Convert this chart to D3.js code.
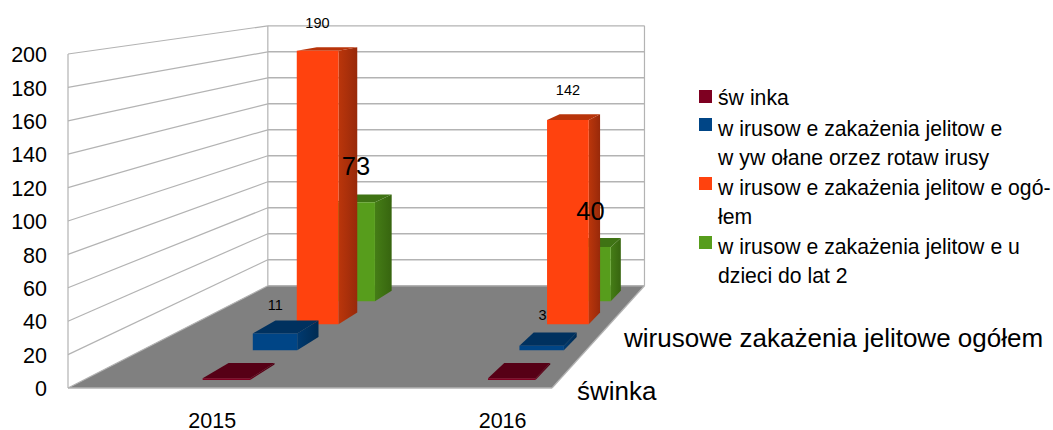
<!DOCTYPE html>
<html><head><meta charset="utf-8">
<script src="https://cdn.jsdelivr.net/npm/d3@7/dist/d3.min.js"></script>
<style>html,body{margin:0;background:#fff}svg{display:block}text{font-family:"Liberation Sans",Arial,sans-serif;fill:#000}</style>
</head><body><svg id="c" width="1053" height="430"></svg>
<script>
const categories = ["2015", "2016"];
const swinka = [1, 1];
const rotawirusy = [11, 3];
const ogolem = [190, 142];
const dzieci = [73, 40];
const yTicks = [0, 20, 40, 60, 80, 100, 120, 140, 160, 180, 200];
const legendLines = [["świnka"], ["wirusowe zakażenia jelitowe", "wywołane orzez rotawirusy"], ["wirusowe zakażenia jelitowe ogó-", "łem"], ["wirusowe zakażenia jelitowe u", "dzieci do lat 2"]];
const depthLabels = ["świnka", "wirusowe zakażenia jelitowe ogółem"];

const seriesValues = [swinka, rotawirusy, ogolem, dzieci];
const colors = ["#7e0021", "#004586", "#ff420e", "#579d1c"];
const topColors = ["#560016", "#00315f", "#b8340a", "#3f7314"];
const sideA = ["#6a001b", "#003a70", "#bb360b", "#457d16"];
const sideB = ["#4c0013", "#002b52", "#98290a", "#37650f"];

const svg = d3.select("#c");
const vx = 969, vy = -73, k = 0.285, baseY = 388;
const xWorld = d3.scaleLinear().domain([0, 1]).range([68, 552]);
const hWorld = d3.scaleLinear().domain([0, 200]).range([0, 334]);
const yFront = d3.scaleLinear().domain([0, 200]).range([388, 54]);
const catX = d3.scalePoint().domain(categories).range([0.3, 0.9]);
const zScale = d3.scaleBand().domain(d3.range(4)).range([0, 1]).paddingInner(0.5).paddingOuter(0.25);
const halfW = 0.05;

function P(x, v, z) {
  const s = 1 / (1 + k * z);
  return [vx + (xWorld(x) - vx) * s, vy + (baseY - hWorld(v) - vy) * s];
}
const poly = pts => pts.map(p => p.map(n => n.toFixed(2)).join(",")).join(" ");
const line = (g, a, b, w) => g.append("line").attr("x1", a[0]).attr("y1", a[1]).attr("x2", b[0]).attr("y2", b[1])
  .attr("stroke", "#b3b3b3").attr("stroke-width", w || 1.2);

// gradients
const defs = svg.append("defs");
colors.forEach((c, i) => {
  const g = defs.append("linearGradient").attr("id", "side" + i);
  g.append("stop").attr("offset", 0).attr("stop-color", sideA[i]);
  g.append("stop").attr("offset", 1).attr("stop-color", sideB[i]);
});

// walls and floor
const walls = svg.append("g");
walls.append("polygon").attr("points", poly([P(0, 0, 0), P(1, 0, 0), P(1, 0, 1), P(0, 0, 1)])).attr("fill", "#808080");
yTicks.forEach(t => {
  line(walls, P(0, t, 0), P(0, t, 1));
  line(walls, P(0, t, 1), P(1, t, 1), 1.4);
});
line(walls, P(0, 0, 0), P(0, 200, 0));
line(walls, P(0, 0, 1), P(0, 200, 1));
line(walls, P(1, 0, 1), P(1, 200, 1));
line(walls, P(0, 0, 0), P(1, 0, 0), 1.4);
line(walls, P(1, 0, 0), P(1, 0, 1));

// bars, painter's order: back row first
const bars = svg.append("g");
d3.range(3, -1, -1).forEach(i => {
  const z0 = zScale(i), z1 = z0 + zScale.bandwidth();
  categories.forEach((cat, j) => {
    const v = seriesValues[i][j];
    const x0 = catX(cat) - halfW, x1 = catX(cat) + halfW;
    bars.append("polygon").attr("fill", `url(#side${i})`)
      .attr("points", poly([P(x1, 0, z0), P(x1, 0, z1), P(x1, v, z1), P(x1, v, z0)]));
    bars.append("polygon").attr("fill", topColors[i])
      .attr("points", poly([P(x0, v, z0), P(x1, v, z0), P(x1, v, z1), P(x0, v, z1)]));
    bars.append("polygon").attr("fill", colors[i])
      .attr("points", poly([P(x0, 0, z0), P(x1, 0, z0), P(x1, v, z0), P(x0, v, z0)]));
  });
});

// value axis
const ax = svg.append("g").attr("transform", "translate(47,0)")
  .call(d3.axisLeft(yFront).tickValues(yTicks).tickSize(0).tickPadding(0));
ax.select(".domain").remove();
ax.selectAll("text").attr("font-size", 21.5).attr("font-family", "Liberation Sans").attr("dy", "0.36em").attr("fill", "#000");

// category labels
categories.forEach(c => {
  svg.append("text").attr("x", xWorld(catX(c)) - 1).attr("y", 428).attr("text-anchor", "middle").attr("font-size", 21.5).text(c);
});

// depth labels
svg.append("text").attr("x", 577).attr("y", 400).attr("font-size", 26).text(depthLabels[0]);
svg.append("text").attr("x", 624).attr("y", 347).attr("font-size", 26).text(depthLabels[1]);

// data labels anchored to the top centre of each bar
function topCentre(i, j) {
  const z = zScale(i) + zScale.bandwidth() / 2;
  return P(catX(categories[j]), seriesValues[i][j], z);
}
const labelStyle = [
  { i: 2, j: 0, dx: -10, dy: -21, size: 14.5 },
  { i: 2, j: 1, dx: -6, dy: -22, size: 14.5 },
  { i: 1, j: 0, dx: -11, dy: -17, size: 14.5 },
  { i: 1, j: 1, dx: -6, dy: -19, size: 14.5 },
  { i: 3, j: 0, dx: -8, dy: -23, size: 25.5 },
  { i: 3, j: 1, dx: -6, dy: -23, size: 25.5 }
];
labelStyle.forEach(l => {
  const p = topCentre(l.i, l.j);
  svg.append("text").attr("x", p[0] + l.dx).attr("y", p[1] + l.dy).attr("text-anchor", "middle")
    .attr("font-size", l.size).text(seriesValues[l.i][l.j]);
});

// legend
const legendBox = [90, 118, 177, 236];
const legendBase = [[105], [136, 165], [195, 224], [254, 283]];
legendLines.forEach((lines, i) => {
  svg.append("rect").attr("x", 699).attr("y", legendBox[i]).attr("width", 13).attr("height", 13).attr("fill", colors[i]);
  lines.forEach((ln, n) => {
    const t = svg.append("text").attr("x", 718).attr("y", legendBase[i][n]).attr("font-size", 21.2);
    // the source renders a wide gap after every "w" inside a word
    const parts = ln.split(/(?<=w)(?=\S)/);
    parts.forEach((p, m) => {
      const s = t.append("tspan").text(p);
      if (m > 0) s.attr("dx", 6);
    });
  });
});
</script></body></html>
